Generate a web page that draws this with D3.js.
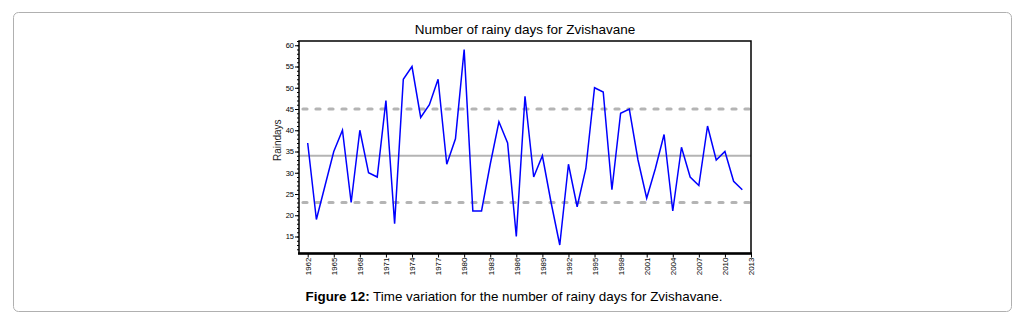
<!DOCTYPE html>
<html>
<head>
<meta charset="utf-8">
<script src="https://cdn.jsdelivr.net/npm/d3@7"></script>
<style>
  body { margin: 0; background: #fff; }
  svg { display: block; font-family: "Liberation Sans", Arial, sans-serif; }
</style>
</head>
<body>
<svg id="chart"></svg>
<script>
// rainy days per year, 1962-2012
const years = d3.range(1962, 2013);
const raindays = [37, 19, 27, 35, 40, 23, 40, 30, 29, 47,
                  18, 52, 55, 43, 46, 52, 32, 38, 59, 21,
                  21, 32, 42, 37, 15, 48, 29, 34, 23, 13,
                  32, 22, 31, 50, 49, 26, 44, 45, 33, 24,
                  31, 39, 21, 36, 29, 27, 41, 33, 35, 28, 26];
const meanLine = 34;
const bandLines = [45, 23];
const yTicks = [15, 20, 25, 30, 35, 40, 45, 50, 55, 60];
const xTicks = d3.range(1962, 2014, 3);

const W = 1024, H = 318;
const margin = { top: 41, right: 273, bottom: 64.5, left: 299 },
      width = W - margin.left - margin.right,
      height = H - margin.top - margin.bottom;

const root = d3.select("#chart").attr("width", W).attr("height", H);

// outer figure frame
root.append("rect")
  .attr("x", 13.5).attr("y", 12.5)
  .attr("width", 998).attr("height", 299)
  .attr("rx", 5)
  .attr("fill", "none")
  .attr("stroke", "#b0b0b0");

const svg = root.append("g")
  .attr("transform", `translate(${margin.left},${margin.top})`);

const x = d3.scaleLinear().domain([1961, 2013]).range([0, width]);
const y = d3.scaleLinear().domain([11, 61]).range([height, 0]);

// reference lines
svg.append("line")
  .attr("x1", 0).attr("x2", width)
  .attr("y1", y(meanLine)).attr("y2", y(meanLine))
  .attr("stroke", "#b4b4b4").attr("stroke-width", 2);

svg.selectAll(".band")
  .data(bandLines)
  .enter()
  .append("line")
  .attr("x1", 4).attr("x2", width)
  .attr("y1", d => y(d)).attr("y2", d => y(d))
  .attr("stroke", "#b4b4b4").attr("stroke-width", 3.2)
  .attr("stroke-linecap", "round")
  .attr("stroke-dasharray", "4,9");

// data line
const line = d3.line()
  .x((d, i) => x(years[i]))
  .y(d => y(d));

svg.append("path")
  .datum(raindays)
  .attr("d", line)
  .attr("fill", "none")
  .attr("stroke", "#0000ff")
  .attr("stroke-width", 1.5);

// frame
svg.append("rect")
  .attr("width", width).attr("height", height)
  .attr("fill", "none")
  .attr("stroke", "#000").attr("stroke-width", 1.5);
svg.append("line")
  .attr("x1", -1).attr("x2", width + 1)
  .attr("y1", height).attr("y2", height)
  .attr("stroke", "#000").attr("stroke-width", 2.5);

// y axis
svg.append("g")
  .call(d3.axisLeft(y).tickValues(d3.range(12, 62)).tickSize(2).tickFormat(""))
  .call(g => g.select(".domain").remove());

const yAxis = svg.append("g")
  .call(d3.axisLeft(y).tickValues(yTicks).tickSize(4).tickPadding(1));
yAxis.select(".domain").remove();
yAxis.selectAll("text").style("font-size", "7.5px").attr("fill", "#000");

// x axis
const xAxis = svg.append("g")
  .attr("transform", `translate(0,${height})`)
  .call(d3.axisBottom(x).tickValues(xTicks).tickSize(4).tickFormat(d3.format("d")));
xAxis.select(".domain").remove();
xAxis.selectAll("text")
  .style("font-size", "8px")
  .attr("fill", "#000")
  .attr("text-anchor", "end")
  .attr("dy", "0.35em")
  .attr("transform", "rotate(-90)")
  .attr("x", -4)
  .attr("y", 0);

// titles
svg.append("text")
  .attr("x", width / 2).attr("y", -7)
  .attr("text-anchor", "middle")
  .style("font-size", "13.5px")
  .text("Number of rainy days for Zvishavane");

svg.append("text")
  .attr("transform", `translate(-18,${height / 2 - 7}) rotate(-90)`)
  .attr("text-anchor", "middle")
  .style("font-size", "10px")
  .attr("fill", "#222")
  .text("Raindays");

const cap = root.append("text")
  .attr("x", 514).attr("y", 301)
  .attr("text-anchor", "middle")
  .style("font-size", "13.4px");
cap.append("tspan").style("font-weight", "bold").text("Figure 12:");
cap.append("tspan").text(" Time variation for the number of rainy days for Zvishavane.");
</script>
</body>
</html>
